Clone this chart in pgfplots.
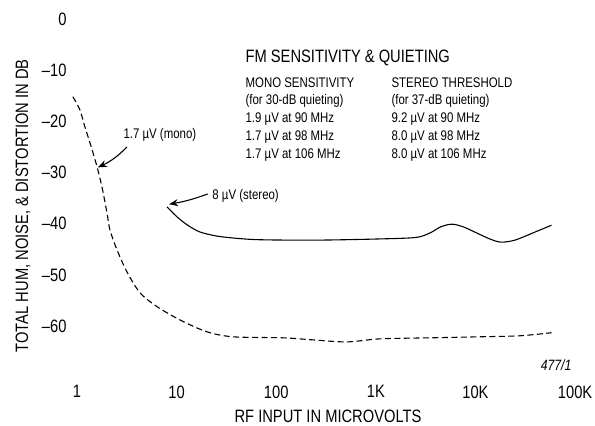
\documentclass[border=0pt]{standalone}
\usepackage{fontspec}
\setmainfont{Liberation Sans}[FakeStretch=0.82]
\usepackage{pgfplots}
\pgfplotsset{compat=1.18}
\usetikzlibrary{arrows.meta}
\begin{document}
\begin{tikzpicture}
\begin{axis}[
  scale only axis,
  width=505bp, height=348bp,
  xmode=log,
  xmin=0.85, xmax=100000,
  ymin=-68, ymax=0,
  axis line style={draw=none},
  tick style={draw=none},
  major tick length=0pt,
  xtick={1,10,100,1000,10000,100000},
  xticklabels={1,10,100,1K,10K,100K},
  ytick={0,-10,-20,-30,-40,-50,-60},
  yticklabels={0,–10,–20,–30,–40,–50,–60},
  tick label style={font=\fontsize{18}{20}\selectfont},
  xticklabel style={yshift=-15bp},
  clip=false,
]
% Mono (dashed)
\addplot[black, line width=1.1pt, smooth, tension=0.5, dash pattern=on 6bp off 3.5bp] coordinates {
(0.91,-15.2) (1.07,-17.8) (1.20,-21.1) (1.35,-24.2) (1.59,-28.9) (1.78,-32.8)
(2.0,-37.9) (2.14,-41.2) (2.52,-45.1) (3.17,-49.4) (4.29,-53.5) (6.35,-56.2)
(10.8,-58.8) (20,-61.1) (36.8,-62.1) (117,-62.3) (233,-62.7) (510,-63.1)
(1100,-62.5) (3500,-62.3) (11000,-62.1) (28000,-61.9) (58000,-61.3)
};
% Stereo (solid)
\addplot[black, line width=1.1pt, smooth] coordinates {
(8,-36.7) (10,-38.6) (12.7,-40.2) (17,-41.6) (25,-42.4) (37,-42.8) (60,-43.1)
(117,-43.2) (300,-43.2) (1000,-43.0) (2500,-42.7) (3500,-41.8) (4500,-40.6)
(5800,-40.1) (7500,-40.6) (10000,-41.7) (14000,-43.0) (18000,-43.6)
(25000,-43.2) (40000,-41.6) (58000,-40.3)
};
% Annotations
\node[anchor=base west, font=\fontsize{14}{16}\selectfont] at (axis cs:2.70,-23.4) {1.7 µV (mono)};
\draw[line width=1.1pt, -{Stealth[length=9bp,width=7bp]}] (axis cs:3.18,-25.0) to[bend left=10] (axis cs:1.62,-29.0);
\node[anchor=base west, font=\fontsize{14}{16}\selectfont] at (axis cs:21.1,-35.2) {8 µV (stereo)};
\draw[line width=1.1pt, -{Stealth[length=9bp,width=7bp]}] (axis cs:20.5,-34.2) to[bend left=5] (axis cs:8.4,-36.2);
% Text block
\node[anchor=base west, font=\fontsize{18}{20}\selectfont] at (axis cs:45.4,-8.6) {FM SENSITIVITY \& QUIETING};
\begin{scope}[every node/.style={anchor=base west, font=\fontsize{14}{16}\selectfont}]
\node at (axis cs:45.4,-13.3) {MONO SENSITIVITY};
\node at (axis cs:45.4,-16.8) {(for 30-dB quieting)};
\node at (axis cs:45.4,-20.3) {1.9 µV at 90 MHz};
\node at (axis cs:45.4,-23.8) {1.7 µV at 98 MHz};
\node at (axis cs:45.4,-27.3) {1.7 µV at 106 MHz};
\node at (axis cs:1325,-13.3) {STEREO THRESHOLD};
\node at (axis cs:1325,-16.8) {(for 37-dB quieting)};
\node at (axis cs:1325,-20.3) {9.2 µV at 90 MHz};
\node at (axis cs:1325,-23.8) {8.0 µV at 98 MHz};
\node at (axis cs:1325,-27.3) {8.0 µV at 106 MHz};
\end{scope}
\node[font=\fontsize{15}{17}\selectfont\itshape] at (axis cs:64500,-67.6) {477/1};
\node[rotate=90, font=\fontsize{18}{20}\selectfont] at (axis cs:0.287,-36.5) {TOTAL HUM, NOISE, \& DISTORTION IN DB};
\node[font=\fontsize{18}{20}\selectfont] at (axis cs:331,-77.6) {RF INPUT IN MICROVOLTS};
\coordinate (bl) at (axis cs:0.1686,-79.5);
\coordinate (tr) at (axis cs:158500,3.7);
\end{axis}
\pgfresetboundingbox
\path (bl) rectangle (tr);
\end{tikzpicture}
\end{document}
